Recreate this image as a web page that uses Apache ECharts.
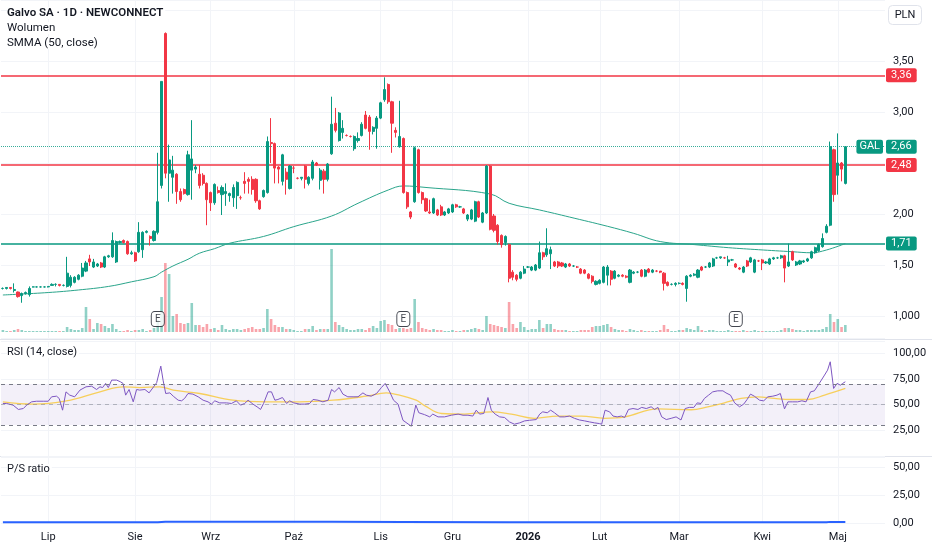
<!DOCTYPE html>
<html>
<head>
<meta charset="utf-8">
<script src="https://cdn.jsdelivr.net/npm/echarts/dist/echarts.min.js"></script>
<style>
html,body{margin:0;padding:0;background:#fff;}
#c{width:932px;height:550px;}
</style>
</head>
<body>
<div id="c"></div>
<script>
// ---------- DATA ----------
// daily candles [open, close, low, high], PLN
const candles = [
[1.27,1.27,1.26,1.28],[1.27,1.28,1.26,1.28],[1.28,1.27,1.26,1.28],[1.25,1.26,1.23,1.32],[1.235,1.19,1.18,1.24],
[1.20,1.22,1.13,1.23],[1.22,1.23,1.21,1.24],[1.21,1.27,1.19,1.29],[1.285,1.285,1.28,1.29],[1.285,1.285,1.28,1.29],
[1.285,1.285,1.28,1.29],[1.285,1.285,1.28,1.29],[1.285,1.29,1.28,1.29],[1.30,1.31,1.30,1.32],[1.31,1.31,1.29,1.32],
[1.31,1.30,1.29,1.31],[1.30,1.30,1.29,1.31],[1.29,1.42,1.28,1.58],[1.30,1.38,1.28,1.40],[1.33,1.38,1.32,1.39],
[1.36,1.40,1.35,1.41],[1.39,1.47,1.38,1.52],[1.44,1.52,1.43,1.54],[1.56,1.53,1.49,1.60],[1.48,1.53,1.47,1.56],
[1.49,1.51,1.48,1.52],[1.52,1.48,1.47,1.53],[1.48,1.58,1.47,1.59],[1.58,1.59,1.57,1.60],[1.58,1.74,1.57,1.82],
[1.53,1.73,1.52,1.74],[1.72,1.73,1.71,1.74],[1.74,1.72,1.71,1.75],[1.73,1.61,1.60,1.74],[1.61,1.62,1.60,1.64],
[1.62,1.54,1.53,1.63],[1.63,1.82,1.62,1.92],[1.65,1.82,1.57,1.83],[1.82,1.83,1.81,1.84],[1.78,1.76,1.69,1.79],
[1.74,1.83,1.73,1.84],[1.82,2.12,1.80,2.60],[2.28,3.30,2.25,3.30],[3.77,2.40,2.35,3.78],[2.40,2.53,2.12,2.68],
[2.36,2.43,2.20,2.57],[2.39,2.22,2.10,2.40],[2.22,2.14,2.12,2.25],[2.24,2.20,2.19,2.25],[2.19,2.58,2.18,2.62],
[2.43,2.54,2.14,2.92],[2.44,2.46,2.40,2.48],[2.39,2.28,2.25,2.48],[2.38,2.30,2.28,2.40],[2.30,2.14,1.89,2.31],
[2.21,2.11,2.03,2.22],[2.11,2.29,2.09,2.30],[2.23,2.21,2.20,2.27],[2.19,2.26,1.99,2.28],[2.20,2.22,2.08,2.30],
[2.18,2.20,2.12,2.21],[2.16,2.26,2.07,2.29],[2.18,2.31,2.05,2.32],[2.16,2.16,2.14,2.18],[2.32,2.30,2.20,2.41],
[2.34,2.32,2.20,2.36],[2.34,2.24,2.19,2.37],[2.34,2.13,2.11,2.35],[2.13,2.05,2.04,2.14],[2.17,2.23,2.16,2.24],
[2.21,2.71,2.20,2.76],[2.70,2.69,2.50,2.94],[2.69,2.45,2.30,2.70],[2.46,2.44,2.30,2.47],[2.32,2.58,2.28,2.59],
[2.41,2.34,2.19,2.45],[2.25,2.47,2.24,2.48],[2.45,2.45,2.40,2.47],[2.35,2.35,2.34,2.36],[2.35,2.36,2.33,2.36],
[2.47,2.34,2.25,2.48],[2.30,2.36,2.28,2.37],[2.35,2.51,2.33,2.53],[2.50,2.48,2.47,2.51],[2.33,2.43,2.24,2.45],
[2.42,2.34,2.20,2.44],[2.34,2.49,2.32,2.50],[2.59,2.88,2.58,3.15],[2.89,2.82,2.80,3.04],[2.72,2.99,2.71,3.00],
[2.80,2.84,2.74,2.92],[2.77,2.77,2.76,2.78],[2.76,2.76,2.75,2.77],[2.64,2.76,2.62,2.77],[2.72,2.74,2.70,2.80],
[2.77,2.88,2.76,2.90],[2.97,2.84,2.83,3.01],[2.95,2.81,2.63,2.97],[2.81,2.85,2.78,2.86],[2.84,2.94,2.64,2.96],
[2.94,3.09,2.93,3.10],[3.12,3.22,3.10,3.34],[3.27,3.10,3.08,3.28],[3.10,2.89,2.60,3.11],[2.82,2.80,2.75,2.85],
[2.66,2.76,2.65,3.11],[2.74,2.21,2.20,2.75],[2.21,2.07,2.05,2.22],[2.02,1.97,1.95,2.03],[2.12,2.65,2.11,2.66],
[2.63,2.21,2.20,2.64],[2.21,2.14,2.10,2.22],[2.15,2.03,2.02,2.16],[2.02,2.01,2.00,2.14],[2.01,2.15,2.00,2.16],
[2.04,1.99,1.98,2.05],[2.07,1.99,1.98,2.09],[1.99,2.02,1.98,2.03],[2.01,2.05,2.00,2.06],[2.02,2.09,2.01,2.10],
[2.09,2.07,2.06,2.10],[2.07,2.07,2.06,2.08],[2.05,2.01,2.00,2.06],[1.95,1.99,1.93,2.00],[1.95,2.04,1.94,2.05],
[1.93,2.12,1.92,2.13],[2.12,1.97,1.96,2.13],[1.92,2.01,1.91,2.02],[2.01,2.47,2.00,2.48],[2.47,1.85,1.84,2.48],
[1.98,1.84,1.82,2.00],[1.89,1.73,1.70,1.90],[1.79,1.70,1.67,1.80],[1.72,1.78,1.69,1.79],[1.70,1.37,1.33,1.71],
[1.43,1.38,1.35,1.45],[1.40,1.36,1.34,1.41],[1.37,1.43,1.36,1.44],[1.42,1.46,1.41,1.49],[1.48,1.48,1.47,1.49],
[1.45,1.48,1.44,1.49],[1.45,1.50,1.44,1.51],[1.47,1.62,1.46,1.73],[1.62,1.58,1.55,1.63],[1.60,1.66,1.58,1.86],
[1.61,1.65,1.46,1.68],[1.53,1.49,1.48,1.54],[1.53,1.49,1.47,1.54],[1.52,1.49,1.48,1.53],[1.48,1.51,1.47,1.52],
[1.51,1.49,1.48,1.52],[1.49,1.49,1.48,1.50],[1.48,1.48,1.47,1.49],[1.46,1.42,1.41,1.47],[1.45,1.42,1.41,1.46],
[1.41,1.37,1.36,1.42],[1.39,1.34,1.32,1.40],[1.31,1.34,1.30,1.35],[1.32,1.35,1.31,1.36],[1.33,1.48,1.32,1.49],
[1.40,1.48,1.30,1.50],[1.44,1.36,1.30,1.45],[1.37,1.44,1.36,1.45],[1.39,1.40,1.38,1.41],[1.40,1.39,1.38,1.41],
[1.39,1.38,1.37,1.40],[1.33,1.45,1.32,1.46],[1.42,1.43,1.41,1.44],[1.43,1.43,1.42,1.44],[1.45,1.39,1.38,1.46],
[1.39,1.45,1.38,1.46],[1.46,1.43,1.42,1.47],[1.43,1.45,1.42,1.46],[1.44,1.44,1.43,1.45],[1.44,1.43,1.42,1.44],
[1.42,1.32,1.25,1.43],[1.33,1.30,1.29,1.34],[1.31,1.31,1.30,1.32],[1.31,1.32,1.29,1.33],[1.32,1.32,1.31,1.33],
[1.32,1.31,1.30,1.33],[1.27,1.39,1.14,1.40],[1.39,1.40,1.38,1.41],[1.40,1.41,1.39,1.42],[1.38,1.45,1.37,1.46],
[1.48,1.45,1.44,1.49],[1.48,1.48,1.47,1.49],[1.48,1.52,1.47,1.53],[1.49,1.56,1.48,1.57],[1.57,1.57,1.56,1.58],
[1.57,1.58,1.56,1.58],[1.57,1.57,1.56,1.58],[1.53,1.55,1.49,1.59],[1.55,1.55,1.54,1.56],[1.51,1.48,1.47,1.52],
[1.47,1.46,1.45,1.48],[1.43,1.48,1.42,1.49],[1.54,1.49,1.48,1.55],[1.53,1.57,1.52,1.58],[1.43,1.55,1.42,1.56],
[1.54,1.54,1.53,1.55],[1.55,1.52,1.45,1.56],[1.52,1.53,1.51,1.54],[1.51,1.56,1.50,1.57],[1.56,1.57,1.55,1.58],
[1.57,1.57,1.56,1.58],[1.57,1.59,1.56,1.60],[1.59,1.47,1.33,1.60],[1.49,1.53,1.48,1.71],[1.63,1.55,1.54,1.64],
[1.50,1.53,1.49,1.54],[1.51,1.54,1.50,1.55],[1.53,1.54,1.52,1.55],[1.54,1.56,1.53,1.57],[1.57,1.63,1.56,1.64],
[1.62,1.67,1.61,1.68],[1.64,1.70,1.63,1.71],[1.68,1.76,1.67,1.81],[1.82,1.88,1.81,1.90],[1.89,2.66,1.88,2.71],
[2.63,2.19,2.12,2.64],[2.38,2.50,2.19,2.79],[2.50,2.44,2.32,2.51],[2.30,2.66,2.29,2.66]
];
// volume (relative units)
const volume = [
2,1,1,2,3,2,1,1,1,1, 1,1,1,1,1,1,1,5,3,2,
2,4,25,13,3,9,8,6,4,8, 3,1,1,2,1,2,2,3,1,2,
4,12,35,69,58,16,18,9,8,9, 29,7,7,5,8,3,4,2,7,3,
2,3,3,2,3,4,5,3,3,4, 23,13,7,5,5,3,3,2,1,1,
3,3,6,2,3,3,3,83,10,7, 5,3,2,2,3,3,2,4,6,4,
11,12,8,7,3,4,4,3,4,33, 10,4,3,2,3,2,2,1,1,2,
1,1,2,2,3,4,3,2,16,8, 7,6,5,4,30,8,4,10,5,2,
3,3,12,4,8,8,3,2,2,2, 1,1,1,2,2,2,5,6,6,7,
8,5,3,2,2,1,3,2,1,2, 1,1,1,1,2,7,3,1,1,2,
2,4,3,2,6,2,1,2,2,1, 1,1,2,1,1,1,2,1,1,2,
1,1,1,1,1,1,2,4,4,3, 2,2,1,2,2,2,2,3,5,18,
10,13,5,7
];
// SMMA(50, close) [bar, value]
const smma = [
[0,1.206],[12,1.23],[20,1.255],[28,1.29],[34,1.335],[40,1.385],[42,1.43],[45,1.49],[49,1.556],[52,1.615],
[56,1.66],[60,1.713],[69,1.78],[77,1.876],[87,1.98],[94,2.105],[102,2.235],[106,2.275],[112,2.26],[129,2.196],
[134,2.105],[142,2.04],[150,1.97],[160,1.88],[167,1.81],[174,1.73],[183,1.70],[192,1.67],[200,1.65],[209,1.63],
[214,1.62],[218,1.647],[223,1.71]
];
// RSI(14) [bar, value]
const rsi = [
[0,51],[1,51],[2.7,49.4],[4.1,45.2],[5.4,46.1],[6.3,49.4],[7.6,52.6],[8.9,53.2],[10.7,53.2],[12,53.2],
[12.9,57.5],[14.2,58.1],[14.9,55.9],[15.8,44.5],[16.7,62.3],[17.7,59.1],[19,57.5],[20.4,64],[22,67.2],[23.5,67.8],
[24.8,64.6],[25.7,67.2],[26.4,66.5],[27.2,70.5],[27.9,66.5],[28.8,73.7],[30.1,73.7],[31.1,72.1],[31.8,70.5],[32.5,59.1],
[33.4,64.6],[34.5,52.6],[35.4,64.6],[36.2,64],[37.6,64.6],[38.7,61.3],[39.9,67.2],[40.7,71.2],[41.8,87.3],[42.4,73.7],
[43.1,60.7],[44.2,61.3],[45.1,58.1],[46.4,54.2],[47.3,53.6],[48.1,55.9],[49,60.7],[50.3,60.1],[51.7,57.5],[53,54.2],
[54.3,52.6],[55.2,50.4],[56.1,53.6],[57.4,51.6],[59.2,51.6],[60.5,51],[61.8,53.6],[62.9,49.4],[64,51],[64.9,54.2],
[66.2,50.4],[67.5,47.2],[68.2,45.2],[69,51],[70.2,62.3],[71.1,62.3],[72,54.2],[72.8,54.9],[74,56.8],[75.1,51],
[75.9,53.6],[77,51.6],[78.6,50.4],[79.9,50.4],[81.2,51],[82.1,54.9],[83.4,54.2],[84.7,52.6],[86.1,54.2],[87,64.6],
[87.8,62.3],[89,66.5],[90,60.1],[91.3,57.5],[92.7,57.5],[94,57.5],[95.3,61.3],[96.2,59.1],[97.5,58.1],[98.9,60.7],
[100.2,66.5],[101.2,70.5],[102.4,62.3],[103.4,54.2],[104.6,50.4],[105.9,34.7],[108.1,28.9],[109.3,49.4],[110.1,42],[111.6,40.2],
[113,38],[113.8,40.7],[115.2,38],[116.9,38],[118.7,39.6],[120.5,40.7],[121.8,39.6],[123.1,39.6],[124.4,38.8],[125.3,44.5],
[126.2,40.7],[127.3,41.3],[128.4,56.8],[129.3,44.5],[130.3,40.7],[131.5,38],[132.8,37.4],[134.1,33.1],[135.4,30.9],[136.8,32.2],
[138.1,34.1],[139.4,34.7],[141.2,35.4],[142.1,40.7],[142.9,42.9],[144.1,42],[145,44.5],[146,42],[147.4,38],[148.7,38],
[150,38.8],[151.3,36.6],[152.6,35],[154,34.1],[155.3,33.1],[156.6,32.2],[157.9,31.5],[158.5,30.9],[159.4,44.5],[160.6,42.9],
[161.5,38.8],[162.6,38],[163.7,38.8],[164.6,37.4],[165.6,45.2],[166.8,46.1],[168.1,45.2],[169.1,47.2],[170.3,46.1],[171.6,47.8],
[172.5,45.2],[173.4,47.2],[174.4,38],[175.6,35.4],[176.9,36.6],[178.2,38],[179.5,35],[180.6,46.1],[181.7,47.2],[182.9,47.2],
[183.8,51.6],[184.8,51],[185.7,55.9],[186.8,59.1],[187.9,62.3],[189.2,63.3],[190.6,63.3],[191.4,61.3],[192.6,59.1],[193.7,51.6],
[195,47.8],[196.1,50.4],[197,54.9],[197.9,60.1],[198.9,58.1],[200.3,54.2],[201.4,53.6],[202.5,57.5],[203.8,58.1],[204.9,59.1],
[205.8,60.7],[206.9,45.8],[207.8,52.6],[209.1,52.6],[210.4,52.6],[211.5,53.6],[212.6,52.6],[213.8,62.3],[214.8,63.3],[216.1,70.5],
[217.5,78.6],[218.3,83.4],[219,91.5],[219.9,65.6],[220.8,70.5],[221.7,68.8],[222.3,70.5],[223,72.1]
];
// RSI-based moving average [bar, value]
const rsiMA = [
[0,52.6],[8,50.4],[16.8,53.6],[25.7,62.3],[31.8,67.2],[36.2,66.5],[41.5,67.2],[45.1,64],[52.1,60.7],[60.9,54.2],
[69.8,52.6],[78.6,52.6],[87.4,54.2],[96.2,58.1],[101.5,61.3],[105,59.1],[109.4,54.2],[111.6,49],[116.1,41.3],[122.2,40.7],
[129.3,42.9],[134.6,40.7],[140.7,36.6],[146.9,38.8],[153.1,38.8],[159.3,36.6],[164.6,38],[173.4,45.8],[182.2,44.9],[186.6,47.8],
[191,51.6],[195.4,55.9],[199.8,57.5],[204.2,55.9],[208.6,54.9],[213,54.9],[217.5,59.1],[223,65.6]
];
// P/S ratio [bar, value]
const psRatio = [[0,0.6],[41,0.6],[43,1.1],[87,1.1],[106,0.9],[134,0.6],[218,0.6],[219,1.0],[223,1.0]];
// horizontal levels and last price
const levelsRed = [3.36, 2.48];
const levelsGreen = [1.71];
const lastPrice = 2.66;
const ticker = 'GAL';
// earnings markers (bar index)
const earnings = [41, 106, 194];
// month tick labels
const monthIdx = [12, 35, 55, 77, 100, 119, 139, 158, 179, 201, 221];
const monthNames = ['Lip','Sie','Wrz','Paź','Lis','Gru','2026','Lut','Mar','Kwi','Maj'];
const rightPadBars = 10;

// ---------- CHART ----------
const UP = '#089981', DOWN = '#f23645';
const N = candles.length + rightPadBars;
const cats = Array.from({length: N}, (_, i) => String(i));
const FONT = 'Roboto, "Noto Sans", sans-serif';
const TXT = '#131722';
const GRIDC = '#f2f4f8';
const isMonth = (i) => monthIdx.indexOf(i) >= 0;
const fmt2 = v => v.toFixed(2).replace('.', ',');
const L = 1, R = 47;
const PRICE_MIN = 0.7843, PRICE_MAX = 4.098;

function catAxis(grid, showLabels) {
  return {
    type: 'category', gridIndex: grid, data: cats, boundaryGap: true,
    axisLine: {show: false}, axisTick: {show: false, alignWithLabel: true},
    axisLabel: showLabels ? {
      show: true, interval: (i) => isMonth(i), margin: 9, fontSize: 11, fontFamily: FONT, color: TXT,
      formatter: (v, i) => { const k = monthIdx.indexOf(Number(v)); if (k < 0) return ''; return monthNames[k] === '2026' ? '{b|2026}' : monthNames[k]; },
      rich: {b: {fontWeight: 'bold', fontSize: 11, fontFamily: FONT, color: TXT}}
    } : {show: false},
    splitLine: {show: true, interval: (i) => isMonth(i), alignWithLabel: true, lineStyle: {color: GRIDC, width: 1}}
  };
}
function valX(grid) {
  return {type: 'value', gridIndex: grid, min: -0.5, max: N - 0.5, show: false, position: 'top',
          splitLine: {show: false}, axisLine: {show: false}};
}
function tagLabel(text, color, pos) {
  return {show: true, position: pos || 'end', formatter: text, color: '#fff', backgroundColor: color,
          padding: [2, 5, 1, 5], fontSize: 11, fontFamily: FONT, borderRadius: 2, distance: 1};
}

const markLines = [];
levelsRed.forEach(v => markLines.push({yAxis: v, lineStyle: {color: DOWN, width: 1.5, type: 'solid'}, label: tagLabel(fmt2(v), DOWN)}));
levelsGreen.forEach(v => markLines.push({yAxis: v, lineStyle: {color: UP, width: 1.5, type: 'solid'}, label: tagLabel(fmt2(v), UP)}));
markLines.push({yAxis: lastPrice, lineStyle: {color: 'rgba(8,153,129,0.8)', width: 1, type: 'dotted'}, label: tagLabel(fmt2(lastPrice), UP)});
markLines.push({yAxis: lastPrice, lineStyle: {color: 'rgba(0,0,0,0)', width: 0}, label: Object.assign(tagLabel(ticker, UP, 'insideEnd'), {padding: [2, 3, 1, 3], distance: 2})});

const volData = volume.map((v, i) => ({
  value: v,
  itemStyle: {color: candles[i][1] >= candles[i][0] ? 'rgba(8,153,129,0.45)' : 'rgba(242,54,69,0.45)'}
}));

const txtStyle = (text, font) => ({text: text, font: font, fill: TXT, backgroundColor: '#ffffff', padding: [0, 2, 0, 0]});

const chart = echarts.init(document.getElementById('c'), null, {renderer: 'canvas'});
chart.setOption({
  animation: false,
  backgroundColor: '#ffffff',
  textStyle: {fontFamily: FONT},
  grid: [
    {left: L, right: R, top: 0, bottom: 212},
    {left: L, right: R, top: 240, bottom: 218},
    {left: L, right: R, top: 341, bottom: 94},
    {left: L, right: R, top: 457, bottom: 27}
  ],
  xAxis: [
    catAxis(0, false), valX(0),
    Object.assign(catAxis(1, false), {splitLine: {show: false}}),
    catAxis(2, false), valX(2),
    catAxis(3, true), valX(3)
  ],
  yAxis: [
    {type: 'value', gridIndex: 0, position: 'right', min: PRICE_MIN, max: PRICE_MAX, splitNumber: 6, scale: true,
     axisLine: {show: false}, axisTick: {show: false},
     axisLabel: {show: true, margin: 8, fontSize: 11, fontFamily: FONT, color: TXT, showMinLabel: false, showMaxLabel: false,
       formatter: v => { if (Math.abs(v - 1) < 1e-6) return '1,000'; if (v > 3.6 || Math.abs(v - 2.5) < 1e-6) return ''; return fmt2(v); }},
     splitLine: {show: true, lineStyle: {color: GRIDC}}},
    {type: 'value', gridIndex: 1, min: 0, max: 92, show: false, splitLine: {show: false}},
    {type: 'value', gridIndex: 2, position: 'right', min: 0, max: 111.7, interval: 25,
     axisLine: {show: false}, axisTick: {show: false},
     axisLabel: {margin: 8, fontSize: 11, fontFamily: FONT, color: TXT, showMinLabel: false, showMaxLabel: false, formatter: fmt2},
     splitLine: {show: true, lineStyle: {color: GRIDC}}},
    {type: 'value', gridIndex: 3, position: 'right', min: 0, max: 58.9, interval: 25,
     axisLine: {show: false}, axisTick: {show: false},
     axisLabel: {margin: 8, fontSize: 11, fontFamily: FONT, color: TXT, showMaxLabel: false, formatter: fmt2},
     splitLine: {show: true, lineStyle: {color: GRIDC}}}
  ],
  series: [
    {type: 'bar', name: 'Wolumen', xAxisIndex: 2, yAxisIndex: 1, data: volData, barWidth: 2.6, silent: true, z: 1},
    {type: 'scatter', xAxisIndex: 2, yAxisIndex: 1, data: earnings.map(i => [i, 13]), symbol: 'roundRect', symbolSize: [13, 15],
     itemStyle: {color: '#ffffff', borderColor: TXT, borderWidth: 1}, z: 5, silent: true,
     label: {show: true, position: 'inside', formatter: 'E', color: TXT, fontSize: 10, fontFamily: FONT}},
    {type: 'line', name: 'SMMA (50, close)', xAxisIndex: 1, yAxisIndex: 0, data: smma, smooth: 0.4, showSymbol: false,
     lineStyle: {color: '#2aa58b', width: 1}, z: 3, silent: true},
    {type: 'candlestick', name: 'Galvo SA', xAxisIndex: 0, yAxisIndex: 0, data: candles, barWidth: 2.6, z: 4,
     itemStyle: {color: UP, color0: DOWN, borderColor: UP, borderColor0: DOWN, borderWidth: 1},
     markLine: {silent: true, symbol: ['none', 'none'], data: markLines, z: 2}},
    {type: 'line', name: 'RSI', xAxisIndex: 4, yAxisIndex: 2, data: rsi, showSymbol: false,
     lineStyle: {color: '#7e57c2', width: 1}, z: 4, silent: true,
     markArea: {silent: true, itemStyle: {color: 'rgba(126,87,194,0.09)'}, data: [[{yAxis: 30}, {yAxis: 70}]]},
     markLine: {silent: true, symbol: ['none', 'none'], label: {show: false},
       data: [
         {yAxis: 70, lineStyle: {color: '#787b86', type: [4, 4], width: 1}},
         {yAxis: 50, lineStyle: {color: 'rgba(120,123,134,0.5)', type: [4, 4], width: 1}},
         {yAxis: 30, lineStyle: {color: '#787b86', type: [4, 4], width: 1}}
       ]}},
    {type: 'line', name: 'RSI MA', xAxisIndex: 4, yAxisIndex: 2, data: rsiMA, smooth: 0.4, showSymbol: false,
     lineStyle: {color: '#f7cf5c', width: 1.3}, z: 3, silent: true},
    {type: 'line', name: 'P/S ratio', xAxisIndex: 6, yAxisIndex: 3, data: psRatio, showSymbol: false,
     lineStyle: {color: '#2962ff', width: 2}, z: 3, silent: true}
  ],
  graphic: [
    {type: 'text', left: 7, top: 7, z: 100, style: txtStyle('Galvo SA · 1D · NEWCONNECT', '600 11.5px ' + FONT)},
    {type: 'text', left: 7, top: 22, z: 100, style: txtStyle('Wolumen', '11.5px ' + FONT)},
    {type: 'text', left: 7, top: 37, z: 100, style: txtStyle('SMMA (50, close)', '11.5px ' + FONT)},
    {type: 'text', left: 7, top: 347, z: 100, style: txtStyle('RSI (14, close)', '11px ' + FONT)},
    {type: 'text', left: 7, top: 464, z: 100, style: txtStyle('P/S ratio', '11px ' + FONT)},
    {type: 'line', shape: {x1: 0, y1: 339.5, x2: 932, y2: 339.5}, style: {stroke: '#e0e3eb', lineWidth: 1}},
    {type: 'line', shape: {x1: 0, y1: 456.5, x2: 932, y2: 456.5}, style: {stroke: '#e0e3eb', lineWidth: 1}},
    {type: 'rect', shape: {x: 888.5, y: 5.5, width: 33, height: 19, r: 4}, style: {fill: '#fff', stroke: '#e0e3eb', lineWidth: 1}},
    {type: 'text', x: 905, y: 15, style: {text: 'PLN', font: '11px ' + FONT, fill: TXT, textAlign: 'center', textVerticalAlign: 'middle'}}
  ]
});
</script>
</body>
</html>
